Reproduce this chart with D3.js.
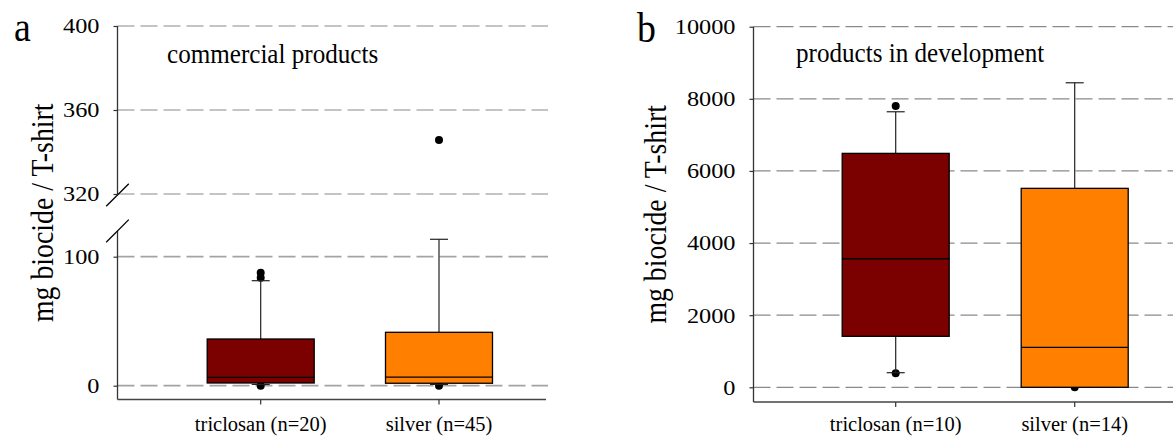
<!DOCTYPE html>
<html>
<head>
<meta charset="utf-8">
<script src="https://cdn.jsdelivr.net/npm/d3@7"></script>
<style>
  body { margin: 0; background: #fff; }
  svg { display: block; }
  svg text { font-family: "Liberation Serif", "DejaVu Serif", "Times New Roman", serif; }
</style>
</head>
<body>
<svg id="chart" width="1173" height="436"></svg>
<script>
// ---- data ----
const categories = ["triclosan", "silver"];
const labelsA = ["triclosan (n=20)", "silver (n=45)"];
const labelsB = ["triclosan (n=10)", "silver (n=14)"];

// box stats: [whisker low, q1, median, q3, whisker high]
const statsA = [
    [1.0, 2.1, 6.5, 36.2, 81.4],
    [1.0, 1.9, 6.7, 41.4, 113.5]
];
const outliersA = [
    [87.5, 83.6, 0],
    [345.7, 0]
];
const statsB = [
    [405, 1414, 3565, 6487, 7641],
    [0, 0, 1109, 5517, 8445]
];
const outliersB = [
    [7799, 388],
    [0]
];

const ticksALow = [0, 100];
const ticksAHigh = [320, 360, 400];
const ticksB = [0, 2000, 4000, 6000, 8000, 10000];

const color = d3.scaleOrdinal().domain(categories).range(["#7b0000", "#ff8000"]);
const serif = '"Liberation Serif", "DejaVu Serif", "Times New Roman", serif';

const svg = d3.select("#chart");

// text with a horizontal stretch (the figure's type is a bit wider than tall)
function label(g, x, y, str, size, sx, anchor, rot) {
    return g.append("text")
        .attr("transform", `translate(${x},${y}) scale(${sx},1)` + (rot ? ` rotate(${rot})` : ""))
        .style("font-family", serif)
        .style("font-size", size + "px")
        .attr("text-anchor", anchor || "start")
        .attr("fill", "#000")
        .text(str);
}

function grid(g, y, ticks, x0, x1, stroke, width) {
    g.selectAll(null)
        .data(ticks)
        .enter().append("line")
        .attr("x1", x0).attr("x2", x1)
        .attr("y1", d => y(d)).attr("y2", d => y(d))
        .attr("stroke", stroke)
        .attr("stroke-width", width)
        .attr("stroke-dasharray", "17,6");
}

function yAxis(g, axisX, y, ticks) {
    const ax = g.append("g")
        .attr("transform", `translate(${axisX},0)`)
        .call(d3.axisLeft(y).tickValues(ticks).tickSize(4).tickSizeOuter(0).tickPadding(14).tickFormat(d3.format("d")));
    ax.attr("font-family", null).attr("font-size", null);
    ax.select(".domain").remove();
    ax.selectAll(".tick line").attr("stroke", "#333").attr("stroke-width", 1.2);
    ax.selectAll(".tick text")
        .style("font-family", serif)
        .style("font-size", "21.5px")
        .attr("fill", "#000")
        .attr("x", -18 / 1.13)
        .attr("transform", "scale(1.13,1)");
}

function boxes(g, x, y, stats, outliers, bw) {
    const cw = 18;
    // outliers sit behind the boxes
    stats.forEach((s, i) => {
        const cx = x(categories[i]);
        g.selectAll(null)
            .data(outliers[i])
            .enter().append("circle")
            .attr("cx", cx)
            .attr("cy", d => y(d))
            .attr("r", 4)
            .attr("fill", "#000");
    });
    stats.forEach((s, i) => {
        const cx = x(categories[i]);
        const [wl, q1, med, q3, wh] = s;
        const wg = g.append("g").attr("stroke", "#222").attr("stroke-width", 1.2);
        wg.append("line").attr("x1", cx).attr("x2", cx).attr("y1", y(q3)).attr("y2", y(wh));
        wg.append("line").attr("x1", cx - cw / 2).attr("x2", cx + cw / 2).attr("y1", y(wh)).attr("y2", y(wh));
        if (wl < q1) {
            wg.append("line").attr("x1", cx).attr("x2", cx).attr("y1", y(q1)).attr("y2", y(wl));
            wg.append("line").attr("x1", cx - cw / 2).attr("x2", cx + cw / 2).attr("y1", y(wl)).attr("y2", y(wl));
        }
        g.append("rect")
            .attr("x", cx - bw / 2)
            .attr("y", y(q3))
            .attr("width", bw)
            .attr("height", y(q1) - y(q3))
            .attr("fill", color(categories[i]))
            .attr("stroke", "#000")
            .attr("stroke-width", 1.3);
        g.append("line")
            .attr("x1", cx - bw / 2).attr("x2", cx + bw / 2)
            .attr("y1", y(med)).attr("y2", y(med))
            .attr("stroke", "#000").attr("stroke-width", 1.3);
    });
}

function xAxis(g, x, x0, x1, yb, labels) {
    g.append("line")
        .attr("x1", x0).attr("x2", x1).attr("y1", yb).attr("y2", yb)
        .attr("stroke", "#444").attr("stroke-width", 1.3);
    categories.forEach((c, i) => {
        g.append("line")
            .attr("x1", x(c)).attr("x2", x(c)).attr("y1", yb).attr("y2", yb + 5)
            .attr("stroke", "#333").attr("stroke-width", 1.2);
        label(g, x(c), 431, labels[i], 20.5, 1, "middle");
    });
}

// ---- panel a: commercial products (broken axis) ----
const ga = svg.append("g");
const axA = 117.5, rightA = 548, bottomA = 399.5;
const xA = d3.scalePoint().domain(categories).range([260.7, 439]);
const yLow = d3.scaleLinear().domain([0, 100]).range([385.7, 256.7]);
const yHigh = d3.scaleLinear().domain([320, 400]).range([194, 26]);
const lowTop = 120; // where the lower segment is cut
const yA = v => v >= 300 ? yHigh(v) : yLow(v);

grid(ga, yHigh, ticksAHigh, axA, rightA, "#8a8a8a", 1.2);
grid(ga, yLow, ticksALow, axA, rightA, "#a3a3a3", 1.7);
boxes(ga, xA, yA, statsA, outliersA, 107);

ga.append("line").attr("x1", axA).attr("x2", axA)
    .attr("y1", yHigh(400)).attr("y2", yHigh(320))
    .attr("stroke", "#333").attr("stroke-width", 1.3);
ga.append("line").attr("x1", axA).attr("x2", axA)
    .attr("y1", yLow(lowTop)).attr("y2", bottomA)
    .attr("stroke", "#333").attr("stroke-width", 1.3);
[yHigh(320) + 1, yLow(lowTop)].forEach(yy => {
    ga.append("line")
        .attr("x1", axA - 11.3).attr("y1", yy + 11.3)
        .attr("x2", axA + 11.3).attr("y2", yy - 11.3)
        .attr("stroke", "#000").attr("stroke-width", 1.3);
});
yAxis(ga, axA, yHigh, ticksAHigh);
yAxis(ga, axA, yLow, ticksALow);
xAxis(ga, xA, axA, 546, bottomA, labelsA);

label(ga, 14, 41, "a", 42, 0.9, "start");
label(ga, 167, 63, "commercial products", 27, 0.93, "start");
label(ga, 53, (26 + bottomA) / 2, "mg biocide / T-shirt", 27.8, 1.1, "middle", -90);

// ---- panel b: products in development ----
const gb = svg.append("g");
const axB = 753.5, rightB = 1173, bottomB = 402;
const xB = d3.scalePoint().domain(categories).range([895.7, 1074.7]);
const yB = d3.scaleLinear().domain([0, 10000]).range([387.3, 26.7]);

grid(gb, yB, ticksB, axB, rightB, "#8a8a8a", 1.3);
boxes(gb, xB, yB, statsB, outliersB, 107);
gb.append("line").attr("x1", axB).attr("x2", axB)
    .attr("y1", yB(10000)).attr("y2", bottomB)
    .attr("stroke", "#333").attr("stroke-width", 1.3);
yAxis(gb, axB, yB, ticksB);
xAxis(gb, xB, axB, rightB, bottomB, labelsB);

label(gb, 637, 41.5, "b", 42, 0.9, "start");
label(gb, 796, 62, "products in development", 27, 0.93, "start");
label(gb, 666, (26.7 + bottomB) / 2, "mg biocide / T-shirt", 27.8, 1.1, "middle", -90);
</script>
</body>
</html>
